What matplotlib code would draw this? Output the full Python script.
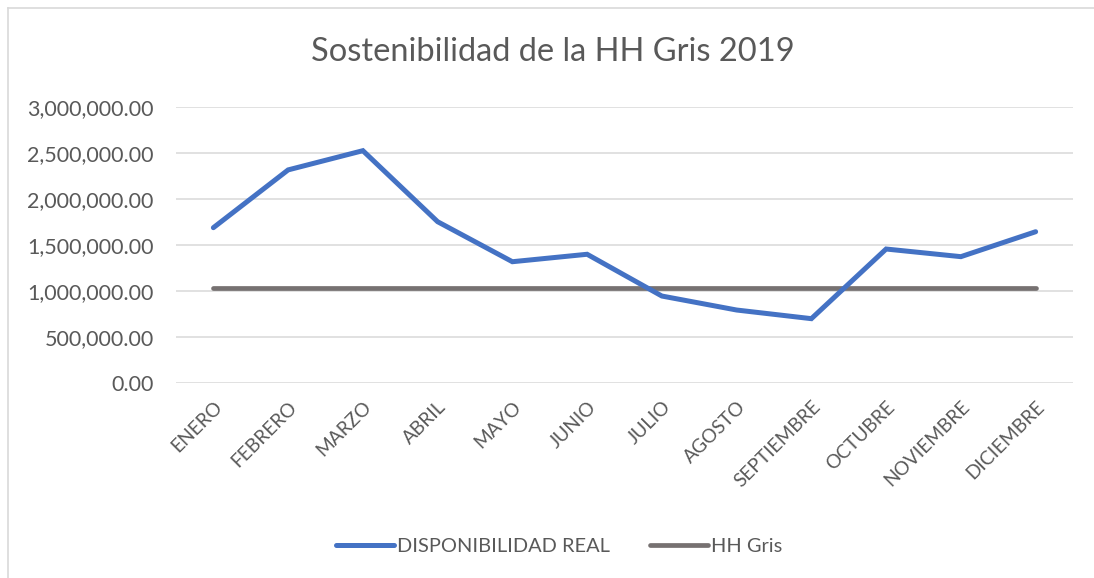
import matplotlib.pyplot as plt
from matplotlib.ticker import FuncFormatter
from matplotlib.lines import Line2D

meses = ['ENERO', 'FEBRERO', 'MARZO', 'ABRIL', 'MAYO', 'JUNIO', 'JULIO',
         'AGOSTO', 'SEPTIEMBRE', 'OCTUBRE', 'NOVIEMBRE', 'DICIEMBRE']
disponibilidad = [1685000, 2313000, 2522000, 1750000, 1315000, 1396000,
                  942000, 790000, 696000, 1453000, 1370000, 1641000]
hh_gris = [1026000] * 12
y_ticks = [0, 500000, 1000000, 1500000, 2000000, 2500000, 3000000]

plt.rcParams['font.family'] = ['Lato', 'DejaVu Sans']
txt = '#595959'
blue = '#4472C4'
gray = '#767171'

fig = plt.figure(figsize=(10.94, 5.78), dpi=100)
ax = fig.add_axes([176/1094, 1 - 382.7/578, (1073 - 176)/1094, (382.7 - 106.7)/578])

x = list(range(len(meses)))
ax.plot(x, disponibilidad, color=blue, lw=3.6, solid_capstyle='round',
        solid_joinstyle='miter', label='DISPONIBILIDAD REAL', zorder=3)
ax.plot(x, hh_gris, color=gray, lw=3.4, solid_capstyle='round',
        label='HH Gris', zorder=2)

ax.set_xlim(-0.5, len(meses) - 0.5)
ax.set_ylim(0, 3000000)
ax.set_yticks(y_ticks)
ax.yaxis.set_major_formatter(FuncFormatter(lambda v, p: f'{v:,.2f}'))
ax.grid(axis='y', color='#D9D9D9', lw=1.1)
ax.set_axisbelow(True)
for s in ax.spines.values():
    s.set_visible(False)
ax.tick_params(axis='both', length=0, colors=txt)
ax.tick_params(axis='y', pad=16, labelsize=15.5)
ax.set_xticks(x)
ax.set_xticklabels(meses, rotation=45, ha='right', rotation_mode='anchor',
                   fontsize=13.8, color=txt)
ax.tick_params(axis='x', pad=11)

fig.text(0.505, 1 - 52/578, 'Sostenibilidad de la HH Gris 2019', ha='center',
         va='center', fontsize=23.5, color=txt)

handles = [Line2D([], [], color=blue, lw=3.6, solid_capstyle='round'),
           Line2D([], [], color=gray, lw=3.4, solid_capstyle='round')]
fig.legend(handles, ['DISPONIBILIDAD REAL', 'HH Gris'], loc='center',
           bbox_to_anchor=(0.511, 1 - 546/578), ncol=2, frameon=False,
           fontsize=14.4, labelcolor=txt, handlelength=2.9, handletextpad=0.15,
           columnspacing=2.0)

# chart border (only top and left visible in the crop)
fig.add_artist(Line2D([8/1094, 1], [1 - 8/578, 1 - 8/578], color='#D9D9D9',
                      lw=1.2, transform=fig.transFigure))
fig.add_artist(Line2D([8/1094, 8/1094], [0, 1 - 8/578], color='#D9D9D9',
                      lw=1.2, transform=fig.transFigure))

fig.savefig('out.png', dpi=100, facecolor='white')
